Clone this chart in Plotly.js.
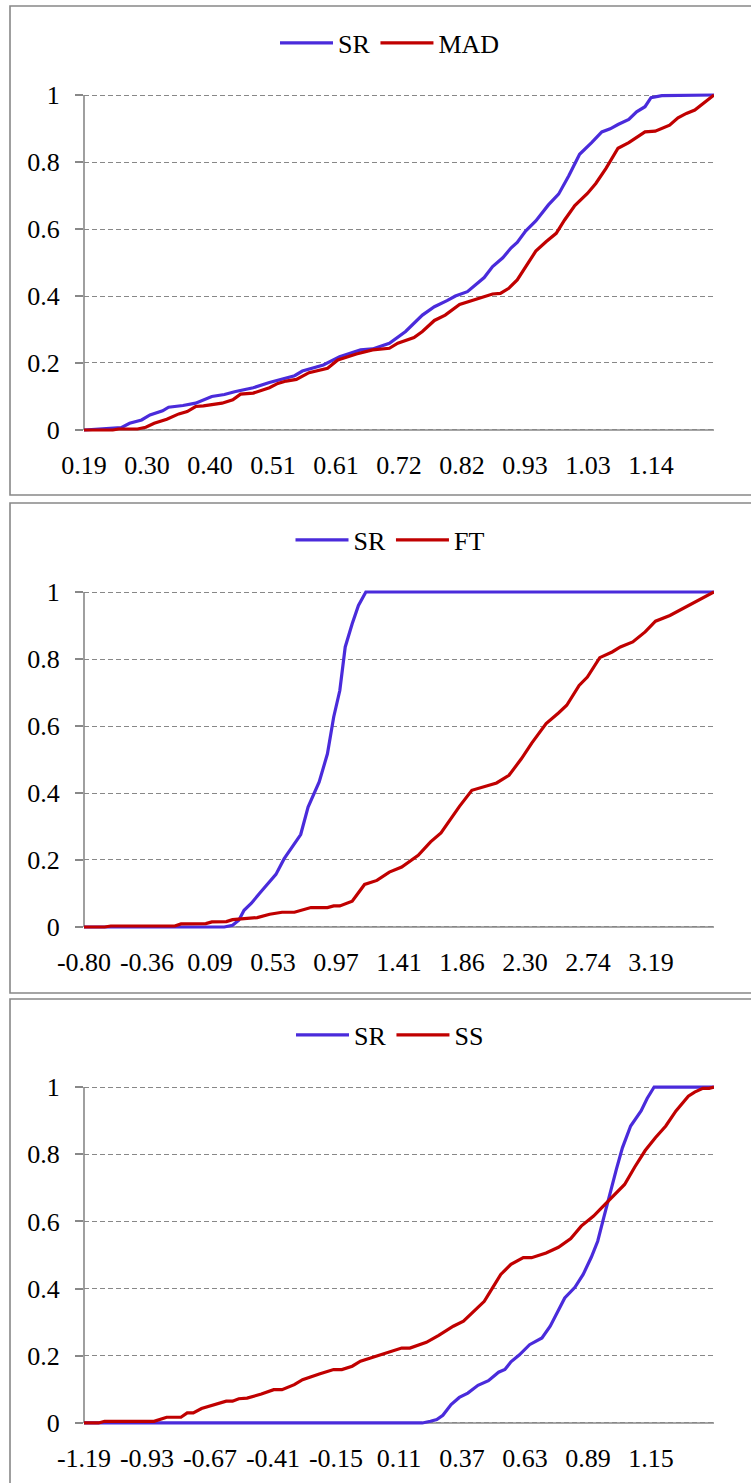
<!DOCTYPE html>
<html>
<head>
<meta charset="utf-8">
<script src="https://cdn.plot.ly/plotly-3.0.1.min.js"></script>
<style>
  html, body { margin: 0; padding: 0; background: #fff; }
  #chart { width: 751px; height: 1483px; }
</style>
</head>
<body>
<div id="chart"></div>
<script>
// ---------- Panel 1: SR vs MAD ----------
const p1_sr_x = [0.190,0.238,0.252,0.266,0.286,0.300,0.321,0.331,0.355,0.376,0.403,0.424,0.441,0.472,0.499,0.541,0.554,0.589,0.616,0.651,0.671,0.699,0.726,0.754,0.774,0.795,0.809,0.829,0.857,0.871,0.888,0.902,0.912,0.926,0.943,0.964,0.981,0.998,1.016,1.036,1.053,1.067,1.080,1.098,1.111,1.125,1.135,1.153,1.240];
const p1_sr_y = [0,0.005,0.007,0.02,0.03,0.045,0.057,0.068,0.073,0.08,0.10,0.106,0.114,0.126,0.142,0.162,0.176,0.194,0.219,0.239,0.242,0.259,0.294,0.343,0.368,0.386,0.40,0.413,0.455,0.488,0.514,0.544,0.56,0.594,0.624,0.672,0.704,0.759,0.823,0.858,0.89,0.899,0.912,0.927,0.95,0.965,0.992,0.998,1];
const p1_mad_x = [0.190,0.238,0.248,0.279,0.293,0.307,0.328,0.348,0.362,0.376,0.389,0.410,0.420,0.438,0.451,0.472,0.499,0.513,0.527,0.544,0.565,0.596,0.613,0.644,0.671,0.699,0.713,0.740,0.754,0.774,0.792,0.816,0.843,0.871,0.884,0.898,0.912,0.926,0.943,0.960,0.977,0.991,1.008,1.029,1.043,1.060,1.080,1.098,1.125,1.142,1.166,1.180,1.194,1.208,1.228,1.240];
const p1_mad_y = [0,0,0.003,0.003,0.008,0.02,0.032,0.048,0.055,0.07,0.072,0.079,0.08,0.09,0.107,0.11,0.126,0.139,0.146,0.151,0.171,0.184,0.209,0.227,0.239,0.244,0.259,0.276,0.294,0.327,0.343,0.375,0.39,0.406,0.408,0.423,0.448,0.488,0.534,0.562,0.587,0.627,0.67,0.706,0.736,0.781,0.841,0.858,0.89,0.892,0.91,0.932,0.945,0.955,0.985,1];
const p1_tickvals = [0.19,0.295,0.40,0.505,0.61,0.715,0.82,0.925,1.03,1.135];
const p1_ticktext = ["0.19","0.30","0.40","0.51","0.61","0.72","0.82","0.93","1.03","1.14"];
const p1_range = [0.19, 1.24];

// ---------- Panel 2: SR vs FT ----------
const p2_sr_x = [-0.800,0.186,0.244,0.288,0.325,0.375,0.433,0.491,0.549,0.607,0.665,0.723,0.775,0.853,0.911,0.955,0.998,1.036,1.085,1.129,1.181,3.628];
const p2_sr_y = [0,0,0.005,0.02,0.05,0.07,0.10,0.13,0.157,0.204,0.24,0.276,0.358,0.433,0.517,0.627,0.706,0.836,0.905,0.96,1,1];
const p2_ft_x = [-0.800,-0.655,-0.612,-0.162,-0.118,0.056,0.099,0.201,0.244,0.418,0.505,0.592,0.679,0.737,0.795,0.911,0.955,0.998,1.085,1.172,1.259,1.346,1.433,1.549,1.636,1.709,1.767,1.839,1.926,2.013,2.100,2.187,2.274,2.347,2.448,2.535,2.593,2.680,2.738,2.825,2.912,2.970,3.057,3.144,3.217,3.318,3.376,3.463,3.536,3.628];
const p2_ft_y = [0,0,0.003,0.003,0.009,0.01,0.015,0.016,0.022,0.028,0.038,0.044,0.044,0.05,0.058,0.058,0.063,0.063,0.077,0.127,0.139,0.164,0.179,0.214,0.254,0.281,0.318,0.36,0.408,0.418,0.43,0.453,0.502,0.549,0.607,0.639,0.662,0.721,0.746,0.804,0.821,0.836,0.851,0.881,0.913,0.93,0.943,0.963,0.98,1];
const p2_tickvals = [-0.800,-0.357,0.086,0.528,0.971,1.414,1.857,2.300,2.742,3.185];
const p2_ticktext = ["-0.80","-0.36","0.09","0.53","0.97","1.41","1.86","2.30","2.74","3.19"];
const p2_range = [-0.80, 3.628];

// ---------- Panel 3: SR vs SS ----------
const p3_sr_x = [-1.190,0.206,0.240,0.266,0.291,0.325,0.359,0.394,0.436,0.479,0.521,0.547,0.572,0.606,0.649,0.700,0.734,0.768,0.794,0.836,0.870,0.904,0.930,0.955,0.981,1.007,1.032,1.066,1.109,1.134,1.163,1.410];
const p3_sr_y = [0,0,0.005,0.01,0.023,0.055,0.076,0.089,0.112,0.126,0.151,0.159,0.182,0.202,0.233,0.253,0.288,0.338,0.372,0.404,0.442,0.494,0.541,0.611,0.685,0.755,0.819,0.884,0.929,0.966,1,1];
const p3_ss_x = [-1.190,-1.130,-1.105,-0.901,-0.849,-0.790,-0.764,-0.739,-0.705,-0.662,-0.603,-0.577,-0.551,-0.517,-0.458,-0.407,-0.373,-0.322,-0.288,-0.219,-0.160,-0.126,-0.083,-0.049,0.019,0.087,0.121,0.155,0.223,0.274,0.334,0.376,0.428,0.462,0.496,0.530,0.572,0.623,0.657,0.717,0.768,0.819,0.862,0.913,0.947,0.989,1.041,1.083,1.126,1.168,1.211,1.253,1.304,1.330,1.364,1.390,1.410];
const p3_ss_y = [0,0,0.005,0.005,0.017,0.017,0.03,0.03,0.043,0.052,0.065,0.065,0.072,0.074,0.086,0.099,0.099,0.114,0.129,0.146,0.159,0.159,0.169,0.184,0.199,0.215,0.223,0.223,0.24,0.261,0.288,0.303,0.338,0.362,0.402,0.442,0.472,0.492,0.492,0.506,0.523,0.549,0.586,0.616,0.641,0.672,0.71,0.762,0.811,0.849,0.884,0.929,0.973,0.985,0.996,0.996,1];
const p3_tickvals = [-1.19,-0.93,-0.67,-0.41,-0.15,0.11,0.37,0.63,0.89,1.15];
const p3_ticktext = ["-1.19","-0.93","-0.67","-0.41","-0.15","0.11","0.37","0.63","0.89","1.15"];
const p3_range = [-1.19, 1.41];

const y_tickvals = [0,0.2,0.4,0.6,0.8,1];
const y_ticktext = ["0","0.2","0.4","0.6","0.8","1"];

// ---------- styling ----------
const W = 751, H = 1483;
const BLUE = '#4a2bdb', RED = '#c00000', GRAY = '#888888';
const FONT = 'Liberation Serif';
const FS = 26;
const px = v => v / W;
const py = v => 1 - v / H;

const xdom = [px(84), px(714)];
const ydoms = [
  [py(434), py(91)],
  [py(931), py(588)],
  [py(1427), py(1083)]
];
const yrange = [-0.012, 1.012];

function xax(range, tv, tt, anchor) {
  return {
    domain: xdom, range: range, anchor: anchor,
    tickmode: 'array', tickvals: tv, ticktext: tt,
    showgrid: false, zeroline: false, showline: false,
    ticks: '', ticklabelstandoff: 13,
    tickfont: {family: FONT, size: FS, color: '#000'},
    fixedrange: true
  };
}
function yax(dom, anchor) {
  return {
    domain: dom, range: yrange, anchor: anchor,
    tickmode: 'array', tickvals: y_tickvals, ticktext: y_ticktext,
    showgrid: true, gridcolor: GRAY, gridwidth: 1.3, griddash: '5px,3px',
    zeroline: false, showline: false,
    ticks: 'outside', ticklen: 8, tickwidth: 1.5, tickcolor: GRAY,
    ticklabelstandoff: 10,
    tickfont: {family: FONT, size: FS, color: '#000'},
    fixedrange: true
  };
}

function line(x, y, name, color, xa, ya, leg) {
  return {x: x, y: y, name: name, type: 'scatter', mode: 'lines',
          line: {color: color, width: 3.2}, xaxis: xa, yaxis: ya, legend: leg,
          hoverinfo: 'skip'};
}

const data = [
  line(p1_sr_x, p1_sr_y, 'SR', BLUE, 'x', 'y', 'legend'),
  line(p1_mad_x, p1_mad_y, 'MAD', RED, 'x', 'y', 'legend'),
  line(p2_sr_x, p2_sr_y, 'SR', BLUE, 'x2', 'y2', 'legend2'),
  line(p2_ft_x, p2_ft_y, 'FT', RED, 'x2', 'y2', 'legend2'),
  line(p3_sr_x, p3_sr_y, 'SR', BLUE, 'x3', 'y3', 'legend3'),
  line(p3_ss_x, p3_ss_y, 'SS', RED, 'x3', 'y3', 'legend3')
];

function legend(yc) {
  return {
    orientation: 'h', x: px(390), xanchor: 'center', y: py(yc), yanchor: 'middle',
    font: {family: FONT, size: FS, color: '#000'}, bgcolor: 'rgba(0,0,0,0)',
    itemwidth: 53, tracegroupgap: 0
  };
}

const shapes = [];
// panel borders
[[6, 495], [503, 993], [999, 1500]].forEach(([t, b]) => {
  shapes.push({type: 'rect', xref: 'paper', yref: 'paper',
    x0: px(10), x1: 1.05, y0: py(b), y1: py(t),
    line: {color: GRAY, width: 1.6}, fillcolor: 'rgba(0,0,0,0)', layer: 'below'});
});
// axis lines
[['x', 'y'], ['x2', 'y2'], ['x3', 'y3']].forEach(([xa, ya]) => {
  shapes.push({type: 'line', xref: xa + ' domain', yref: ya, x0: 0, x1: 1, y0: 0, y1: 0,
    line: {color: GRAY, width: 1.6}, layer: 'below'});
  shapes.push({type: 'line', xref: xa + ' domain', yref: ya, x0: 0, x1: 0, y0: 0, y1: 1,
    line: {color: GRAY, width: 1.6}, layer: 'below'});
});

const layout = {
  width: W, height: H,
  margin: {l: 0, r: 0, t: 0, b: 0},
  paper_bgcolor: '#fff', plot_bgcolor: 'rgba(0,0,0,0)',
  showlegend: true,
  xaxis: xax(p1_range, p1_tickvals, p1_ticktext, 'y'),
  yaxis: yax(ydoms[0], 'x'),
  xaxis2: xax(p2_range, p2_tickvals, p2_ticktext, 'y2'),
  yaxis2: yax(ydoms[1], 'x2'),
  xaxis3: xax(p3_range, p3_tickvals, p3_ticktext, 'y3'),
  yaxis3: yax(ydoms[2], 'x3'),
  legend: legend(43),
  legend2: legend(540),
  legend3: legend(1035),
  shapes: shapes
};

Plotly.newPlot('chart', data, layout, {displayModeBar: false});
</script>
</body>
</html>
